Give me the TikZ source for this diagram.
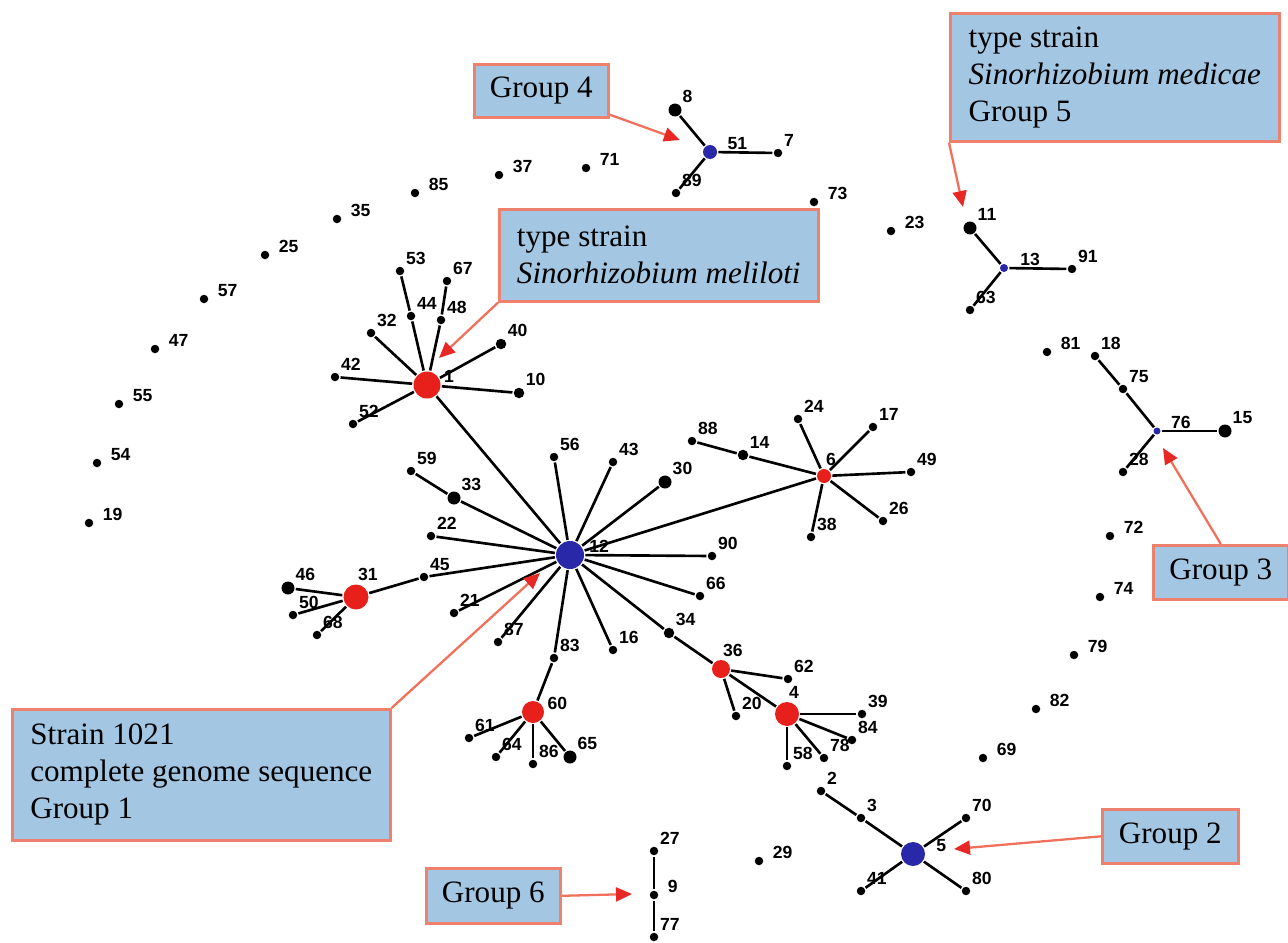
\documentclass[tikz,border=0pt]{standalone}
\usepackage{fontspec}
\setmainfont{Liberation Serif}
\setsansfont{Liberation Sans}
\usetikzlibrary{arrows.meta}
\definecolor{boxfill}{RGB}{163,198,226}
\definecolor{boxline}{RGB}{238,128,110}
\definecolor{arrowline}{RGB}{240,112,92}
\definecolor{arrowhead}{RGB}{232,40,36}
\definecolor{hubred}{RGB}{232,32,28}
\definecolor{hubblue}{RGB}{40,40,168}
\tikzstyle{lbl}=[font=\sffamily\bfseries\fontsize{10}{12}\selectfont, inner sep=0.5pt]
\tikzset{strain/.style={circle, fill=black, inner sep=0pt, minimum size=0.17cm}}
\tikzset{leaf/.style={strain, label={[lbl]45:#1}}}
\tikzset{lone/.style={strain, label={[lbl, anchor=south west, label distance=3.5pt]0:#1}}}
\tikzset{mid/.style={minimum size=0.21cm}, big/.style={minimum size=0.26cm}}
\tikzset{hub/.style={circle, inner sep=0pt, minimum size=#1}}
\tikzset{redhub/.style={hub=#1, fill=hubred}, bluehub/.style={hub=#1, fill=hubblue}}
\tikzset{callout/.style={draw=boxline, fill=boxfill, line width=1.5pt, align=left,
    anchor=north west, inner sep=0pt, font=\fontsize{17.7}{21}\selectfont}}
\tikzset{callarrow/.style={draw=arrowline, line width=1.3pt,
    -{Triangle[length=0.32cm, width=0.28cm, color=arrowhead]}}}

\begin{document}
\begin{tikzpicture}[x=0.02cm, y=-0.02cm, line width=1.5pt]
    \useasboundingbox (0, 0) rectangle (1288, 943);

    % group 1: central star
    \draw node at (570, 555) [bluehub=0.56cm, label={[lbl, anchor=south west, label distance=1pt]0:12}] (n12) {};
    \draw node at (427, 385) [redhub=0.54cm, label={[lbl, anchor=south west]0:1}] (n1) {};
    \draw node at (400, 271) [leaf=53] (n53) {};
    \draw node at (411, 316) [leaf=44] (n44) {};
    \draw node at (447, 281) [leaf=67] (n67) {};
    \draw node at (441, 320) [leaf=48] (n48) {};
    \draw node at (371, 333) [leaf=32] (n32) {};
    \draw node at (335, 377) [leaf=42] (n42) {};
    \draw node at (353, 424) [leaf=52] (n52) {};
    \draw node at (501, 344) [leaf=40, mid] (n40) {};
    \draw node at (519, 393) [leaf=10, mid] (n10) {};
    \draw node at (554, 457) [leaf=56] (n56) {};
    \draw node at (613, 462) [leaf=43] (n43) {};
    \draw node at (665, 482) [leaf=30, big] (n30) {};
    \draw node at (454, 498) [leaf=33, big] (n33) {};
    \draw node at (411, 471) [leaf=59] (n59) {};
    \draw node at (431, 536) [leaf=22] (n22) {};
    \draw node at (424, 577) [leaf=45] (n45) {};
    \draw node at (356, 597) [redhub=0.5cm, label={[lbl, anchor=south west]90:31}] (n31) {};
    \draw node at (288, 588) [leaf=46, big] (n46) {};
    \draw node at (293, 615) [leaf=50] (n50) {};
    \draw node at (317, 635) [leaf=68] (n68) {};
    \draw node at (454, 613) [leaf=21] (n21) {};
    \draw node at (498, 642) [leaf=87] (n87) {};
    \draw node at (554, 658) [leaf=83] (n83) {};
    \draw node at (613, 650) [leaf=16] (n16) {};
    \draw node at (700, 596) [leaf=66] (n66) {};
    \draw node at (712, 556) [leaf=90] (n90) {};
    \draw node at (669, 633) [leaf=34, mid] (n34) {};
    \draw node at (533, 712) [redhub=0.44cm, label={[lbl, anchor=south west]0:60}] (n60) {};
    \draw node at (469, 738) [leaf=61] (n61) {};
    \draw node at (496, 757) [leaf=64] (n64) {};
    \draw node at (533, 764) [leaf=86] (n86) {};
    \draw node at (570, 757) [leaf=65, big] (n65) {};
    \draw node at (721, 669) [redhub=0.36cm, label={[lbl, anchor=south west]90:36}] (n36) {};
    \draw node at (788, 679) [leaf=62] (n62) {};
    \draw node at (736, 716) [leaf=20] (n20) {};
    \draw node at (787, 714) [redhub=0.48cm, label={[lbl, anchor=south west]90:4}] (n4) {};
    \draw node at (862, 714) [leaf=39] (n39) {};
    \draw node at (852, 740) [leaf=84] (n84) {};
    \draw node at (824, 758) [leaf=78] (n78) {};
    \draw node at (787, 766) [leaf=58] (n58) {};
    \draw node at (824, 476) [redhub=0.28cm, label={[lbl, anchor=south west]90:6}] (n6) {};
    \draw node at (692, 441) [leaf=88] (n88) {};
    \draw node at (743, 455) [leaf=14, mid] (n14) {};
    \draw node at (798, 419) [leaf=24] (n24) {};
    \draw node at (873, 427) [leaf=17] (n17) {};
    \draw node at (911, 472) [leaf=49] (n49) {};
    \draw node at (883, 521) [leaf=26] (n26) {};
    \draw node at (811, 537) [leaf=38] (n38) {};

    % group 2
    \draw node at (913, 854) [bluehub=0.48cm, label={[lbl, anchor=south west, label distance=4.5pt]0:5}] (n5) {};
    \draw node at (861, 818) [leaf=3] (n3) {};
    \draw node at (821, 791) [leaf=2] (n2) {};
    \draw node at (966, 818) [leaf=70] (n70) {};
    \draw node at (966, 891) [leaf=80] (n80) {};
    \draw node at (861, 891) [leaf=41] (n41) {};

    % group 4
    \draw node at (710, 152) [bluehub=0.28cm, label={[lbl, anchor=south west, label distance=4pt]0:51}] (n51) {};
    \draw node at (675, 110) [leaf=8, big] (n8) {};
    \draw node at (778, 153) [leaf=7] (n7) {};
    \draw node at (676, 193) [leaf=89] (n89) {};

    % group 5
    \draw node at (1004, 268) [bluehub=0.16cm, label={[lbl, anchor=south west, label distance=5pt]0:13}] (n13) {};
    \draw node at (970, 228) [leaf=11, big] (n11) {};
    \draw node at (1072, 269) [leaf=91] (n91) {};
    \draw node at (970, 310) [leaf=63] (n63) {};

    % group 3
    \draw node at (1157, 431) [bluehub=0.14cm, label={[lbl, anchor=south west, label distance=4pt]0:76}] (n76) {};
    \draw node at (1123, 389) [leaf=75] (n75) {};
    \draw node at (1095, 356) [leaf=18] (n18) {};
    \draw node at (1225, 431) [leaf=15, big] (n15) {};
    \draw node at (1123, 472) [leaf=28] (n28) {};

    % group 6
    \draw node at (654, 851) [leaf=27] (n27) {};
    \draw node at (654, 895) [lone=9] (n9) {};
    \draw node at (654, 937) [leaf=77] (n77) {};

    % unlinked strains
    \draw node at (415, 193) [lone=85] (n85) {};
    \draw node at (337, 219) [lone=35] (n35) {};
    \draw node at (265, 255) [lone=25] (n25) {};
    \draw node at (204, 299) [lone=57] (n57) {};
    \draw node at (155, 349) [lone=47] (n47) {};
    \draw node at (119, 404) [lone=55] (n55) {};
    \draw node at (97, 463) [lone=54] (n54) {};
    \draw node at (89, 523) [lone=19] (n19) {};
    \draw node at (499, 175) [lone=37] (n37) {};
    \draw node at (586, 168) [lone=71] (n71) {};
    \draw node at (814, 202) [lone=73] (n73) {};
    \draw node at (891, 231) [lone=23] (n23) {};
    \draw node at (1047, 352) [lone=81] (n81) {};
    \draw node at (1110, 536) [lone=72] (n72) {};
    \draw node at (1100, 597) [lone=74] (n74) {};
    \draw node at (1074, 655) [lone=79] (n79) {};
    \draw node at (1036, 709) [lone=82] (n82) {};
    \draw node at (983, 758) [lone=69] (n69) {};
    \draw node at (759, 861) [lone=29] (n29) {};

    % links
    \draw (n12) edge (n1) edge (n56) edge (n43) edge (n30) edge (n6) edge (n90) edge (n66)
        edge (n34) edge (n16) edge (n83) edge (n87) edge (n21) edge (n45) edge (n22) edge (n33);
    \draw (n1) edge (n44) edge (n48) edge (n32) edge (n42) edge (n52) edge (n40) edge (n10);
    \draw (n44) to (n53);
    \draw (n48) to (n67);
    \draw (n33) to (n59);
    \draw (n45) to (n31);
    \draw (n31) edge (n46) edge (n50) edge (n68);
    \draw (n6) edge (n14) edge (n24) edge (n17) edge (n49) edge (n26) edge (n38);
    \draw (n14) to (n88);
    \draw (n34) to (n36);
    \draw (n36) edge (n62) edge (n20) edge (n4);
    \draw (n4) edge (n39) edge (n84) edge (n78) edge (n58);
    \draw (n83) to (n60);
    \draw (n60) edge (n61) edge (n64) edge (n86) edge (n65);
    \draw (n5) edge (n3) edge (n70) edge (n80) edge (n41);
    \draw (n3) to (n2);
    \draw (n51) edge (n8) edge (n7) edge (n89);
    \draw (n13) edge (n11) edge (n91) edge (n63);
    \draw (n76) edge (n75) edge (n15) edge (n28);
    \draw (n75) to (n18);
    \draw (n27) to (n9) to (n77);

    % callouts
    \node at (473, 63) [callout, minimum width=2.68cm, minimum height=1.06cm] (g4) {Group 4};
    \node at (498, 208) [callout, minimum width=6.38cm, minimum height=1.84cm] (mel)
        {type strain\\\textit{Sinorhizobium meliloti}};
    \node at (949, 12) [callout, minimum width=6.58cm, minimum height=2.56cm] (med)
        {type strain\\\textit{Sinorhizobium medicae}\\Group 5};
    \node at (1152, 544) [callout, minimum width=2.70cm, minimum height=1.08cm] (g3) {Group 3};
    \node at (11, 708) [callout, minimum width=7.56cm, minimum height=2.62cm] (g1)
        {Strain 1021\\complete genome sequence\\Group 1};
    \node at (425, 867) [callout, minimum width=2.68cm, minimum height=1.10cm] (g6) {Group 6};
    \node at (1101, 808) [callout, minimum width=2.72cm, minimum height=1.08cm] (g2) {Group 2};

    \coordinate (g4tip) at (680, 140);
    \coordinate (meltip) at (439, 358);
    \coordinate (medtip) at (963, 207);
    \coordinate (g3tip) at (1163, 448);
    \coordinate (g1tip) at (540, 573);
    \coordinate (g6tip) at (632, 894);
    \coordinate (g2tip) at (954, 849);

    \draw [callarrow] ([yshift=0.08cm]g4.south east) -- (g4tip);
    \draw [callarrow] (mel.south west) -- (meltip);
    \draw [callarrow] (med.south west) -- (medtip);
    \draw [callarrow] (g3.north) -- (g3tip);
    \draw [callarrow] (g1.north east) -- (g1tip);
    \draw [callarrow] (g6.east) -- (g6tip);
    \draw [callarrow] (g2.west) -- (g2tip);
\end{tikzpicture}
\end{document}
